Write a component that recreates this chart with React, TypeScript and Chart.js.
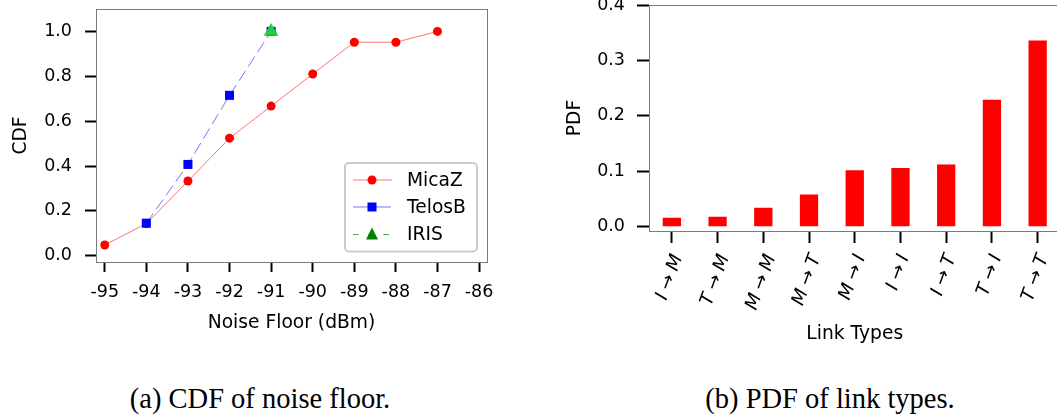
import React, { useEffect, useRef } from 'react';
import { Chart, registerables } from 'chart.js';

Chart.register(...registerables);

// ---------------- data ----------------
const noiseFloorTicks = [-95, -94, -93, -92, -91, -90, -89, -88, -87, -86];
const cdfTicks = [0.0, 0.2, 0.4, 0.6, 0.8, 1.0];
const micaZNoise = [-95, -94, -93, -92, -91, -90, -89, -88, -87];
const micaZCdf = [0.048, 0.143, 0.333, 0.524, 0.667, 0.81, 0.952, 0.952, 1.0];
const telosBNoise = [-94, -93, -92, -91];
const telosBCdf = [0.145, 0.407, 0.715, 1.0];
const irisNoise = [-91];
const irisCdf = [1.0];

const linkTypes = ['I→M', 'T→M', 'M→M', 'M→T', 'M→I', 'I→I', 'I→T', 'T→I', 'T→T'];
const linkPdf = [0.016, 0.018, 0.034, 0.058, 0.102, 0.106, 0.112, 0.229, 0.336];
const pdfTicks = [0.0, 0.1, 0.2, 0.3, 0.4];

const captionA = '(a) CDF of noise floor.';
const captionB = '(b) PDF of link types.';

// ---------------- styles ----------------
const FONT = "'DejaVu Sans', sans-serif";
const SPINE = '#7a7a7a';
const TICK_FONT = { family: FONT, size: 17.5 };
const TITLE_FONT = { family: FONT, size: 18.7 };

const toPts = (xs: number[], ys: number[]) => xs.map((x, i) => ({ x, y: ys[i] }));

function drawMarker(ctx: CanvasRenderingContext2D, kind: string, x: number, y: number, color: string) {
  ctx.save();
  ctx.fillStyle = color;
  ctx.beginPath();
  if (kind === 'circle') {
    ctx.arc(x, y, 4.5, 0, Math.PI * 2);
  } else if (kind === 'rect') {
    ctx.rect(x - 4.5, y - 4.5, 9, 9);
  } else {
    ctx.moveTo(x, y - 7);
    ctx.lineTo(x + 6, y + 5);
    ctx.lineTo(x - 6, y + 5);
    ctx.closePath();
  }
  ctx.fill();
  ctx.restore();
}

const framePlugin = {
  id: 'frame',
  afterDatasetsDraw(chart: any) {
    const { ctx, chartArea: a } = chart;
    ctx.save();
    ctx.strokeStyle = SPINE;
    ctx.lineWidth = 1;
    const l = Math.round(a.left) + 0.5;
    const t = Math.round(a.top) + 0.5;
    const r = Math.round(a.right) + 0.5;
    const b = Math.round(a.bottom) + 0.5;
    ctx.strokeRect(l, t, r - l, b - t);
    ctx.restore();
  },
};

const boxLegendPlugin = {
  id: 'boxLegend',
  afterDraw(chart: any) {
    const { ctx, chartArea: a } = chart;
    const w = 132;
    const h = 88.5;
    const x0 = a.right - 10 - w;
    const y0 = a.bottom - 10.5 - h;
    ctx.save();
    ctx.beginPath();
    ctx.roundRect(x0, y0, w, h, 4);
    ctx.fillStyle = 'rgba(255,255,255,0.85)';
    ctx.fill();
    ctx.strokeStyle = '#cccccc';
    ctx.lineWidth = 2;
    ctx.stroke();
    const rows = [17, 44, 71.5];
    chart.data.datasets.forEach((ds: any, i: number) => {
      const y = y0 + rows[i];
      ctx.save();
      ctx.strokeStyle = ds.legendLine;
      ctx.lineWidth = 1;
      ctx.setLineDash(ds.legendDash);
      ctx.beginPath();
      ctx.moveTo(x0 + 8, y);
      ctx.lineTo(x0 + 47, y);
      ctx.stroke();
      ctx.restore();
      drawMarker(ctx, ds.legendMarker, x0 + 27, y, ds.legendMarkerColor);
      ctx.fillStyle = '#000';
      ctx.font = `18.7px ${FONT}`;
      ctx.textAlign = 'left';
      ctx.textBaseline = 'middle';
      ctx.fillText(ds.label, x0 + 62, y + 1);
    });
    ctx.restore();
  },
};

// Rotated (70°) italic category labels, centred under each tick like matplotlib's rotated ticks.
const rotatedLabelsPlugin = {
  id: 'rotLabels',
  afterDraw(chart: any) {
    const { ctx, chartArea: a, scales } = chart;
    const xs = scales.x;
    const ang = (70 * Math.PI) / 180;
    const spacing = 5;
    const fontSize = 18.5;
    ctx.save();
    ctx.font = `italic ${fontSize}px ${FONT}`;
    const hasLS = 'letterSpacing' in ctx;
    if (hasLS) (ctx as any).letterSpacing = `${spacing}px`;
    ctx.fillStyle = '#000';
    ctx.textBaseline = 'middle';
    const capH = 13.5;
    chart.data.labels.forEach((lab: string, i: number) => {
      const x = xs.getPixelForValue(i) - 2;
      let w: number;
      if (hasLS) {
        w = ctx.measureText(lab).width - spacing;
      } else {
        const parts = Array.from(lab);
        w = parts.reduce((s, p) => s + ctx.measureText(p).width, 0) + spacing * (parts.length - 1);
      }
      const bh = w * Math.sin(ang) + capH * Math.cos(ang);
      const cy = a.bottom + 22 + bh / 2;
      ctx.save();
      ctx.translate(x, cy);
      ctx.rotate(-ang);
      if (hasLS) {
        ctx.textAlign = 'left';
        ctx.fillText(lab, -w / 2, 0);
      } else {
        ctx.textAlign = 'left';
        let px = -w / 2;
        Array.from(lab).forEach((p) => {
          ctx.fillText(p, px, 0);
          px += ctx.measureText(p).width + spacing;
        });
      }
      ctx.restore();
    });
    ctx.restore();
  },
};

export default function App() {
  const leftRef = useRef<HTMLCanvasElement>(null);
  const rightRef = useRef<HTMLCanvasElement>(null);

  useEffect(() => {
    const left = new Chart(leftRef.current as HTMLCanvasElement, {
      type: 'line',
      data: {
        datasets: [
          {
            label: 'MicaZ',
            data: toPts(micaZNoise, micaZCdf),
            borderColor: 'rgba(255,0,0,0.55)',
            borderWidth: 1,
            pointStyle: 'circle',
            pointRadius: 4.5,
            pointBackgroundColor: '#ff0000',
            pointBorderWidth: 0,
            order: 2,
            legendLine: 'rgba(255,0,0,0.55)',
            legendDash: [],
            legendMarker: 'circle',
            legendMarkerColor: '#ff0000',
          } as any,
          {
            label: 'TelosB',
            data: toPts(telosBNoise, telosBCdf),
            borderColor: 'rgba(0,0,255,0.55)',
            borderWidth: 1,
            borderDash: [12, 5],
            pointStyle: 'rect',
            pointRadius: 6.4,
            pointBackgroundColor: '#0000ff',
            pointBorderWidth: 0,
            order: 1,
            legendLine: 'rgba(0,0,255,0.55)',
            legendDash: [16, 6],
            legendMarker: 'rect',
            legendMarkerColor: '#0000ff',
          } as any,
          {
            label: 'IRIS',
            data: toPts(irisNoise, irisCdf),
            borderColor: 'rgba(0,128,0,0.7)',
            borderWidth: 1,
            borderDash: [6, 8],
            pointStyle: 'triangle',
            pointRadius: 8.5,
            pointBackgroundColor: '#1fcc44',
            pointBorderWidth: 0,
            order: 0,
            legendLine: 'rgba(0,128,0,0.7)',
            legendDash: [5.6, 9.6],
            legendMarker: 'triangle',
            legendMarkerColor: '#008000',
          } as any,
        ],
      },
      options: {
        responsive: false,
        animation: false,
        layout: { padding: { left: 0, top: 9, right: 13, bottom: 0 } },
        plugins: { legend: { display: false }, tooltip: { enabled: false } },
        scales: {
          x: {
            type: 'linear',
            min: -95.21,
            max: -85.81,
            afterBuildTicks: (s: any) => {
              s.ticks = noiseFloorTicks.map((v) => ({ value: v }));
            },
            afterFit: (s: any) => {
              s.height = 78;
              s.paddingLeft = 0;
              s.paddingRight = 0;
            },
            grid: { drawOnChartArea: false, drawTicks: true, tickLength: 10, tickWidth: 2, tickColor: '#000' },
            border: { display: false },
            ticks: {
              font: TICK_FONT,
              color: '#000',
              padding: 9.5,
              maxRotation: 0,
              autoSkip: false,
              callback: (v: any) => String(v),
            },
            title: {
              display: true,
              text: 'Noise Floor (dBm)',
              font: TITLE_FONT,
              color: '#000',
              padding: { top: 0, bottom: 5.5 },
            },
          },
          y: {
            type: 'linear',
            min: -0.028,
            max: 1.1,
            afterBuildTicks: (s: any) => {
              s.ticks = cdfTicks.map((v) => ({ value: v }));
            },
            afterFit: (s: any) => {
              s.width = 96;
              s.paddingTop = 0;
              s.paddingBottom = 0;
            },
            grid: { drawOnChartArea: false, drawTicks: true, tickLength: 11, tickWidth: 2, tickColor: '#000' },
            border: { display: false },
            ticks: {
              font: TICK_FONT,
              color: '#000',
              padding: 13,
              autoSkip: false,
              callback: (v: any) => Number(v).toFixed(1),
            },
            title: {
              display: true,
              text: 'CDF',
              font: TITLE_FONT,
              color: '#000',
              padding: { top: 10, bottom: 0 },
            },
          },
        },
      },
      plugins: [framePlugin, boxLegendPlugin],
    } as any);

    const right = new Chart(rightRef.current as HTMLCanvasElement, {
      type: 'bar',
      data: {
        labels: linkTypes,
        datasets: [
          {
            label: 'PDF',
            data: linkPdf,
            backgroundColor: '#ff0000',
            borderWidth: 0,
            barPercentage: 0.4,
            categoryPercentage: 1.0,
          },
        ],
      },
      options: {
        responsive: false,
        animation: false,
        layout: { padding: { left: 0, top: 25, right: 19.5, bottom: 0 } },
        plugins: { legend: { display: false }, tooltip: { enabled: false } },
        scales: {
          x: {
            type: 'category',
            offset: true,
            afterFit: (s: any) => {
              s.height = 129;
              s.paddingLeft = 0;
              s.paddingRight = 0;
            },
            grid: { offset: false, drawOnChartArea: false, drawTicks: true, tickLength: 12, tickWidth: 2, tickColor: '#000' },
            border: { display: false },
            ticks: { display: false },
            title: {
              display: true,
              text: 'Link Types',
              font: TITLE_FONT,
              color: '#000',
              padding: { top: 0, bottom: 14.8 },
            },
          },
          y: {
            type: 'linear',
            min: -0.0078,
            max: 0.4,
            afterBuildTicks: (s: any) => {
              s.ticks = pdfTicks.map((v) => ({ value: v }));
            },
            afterFit: (s: any) => {
              s.width = 109;
              s.paddingTop = 0;
              s.paddingBottom = 0;
            },
            grid: { drawOnChartArea: false, drawTicks: true, tickLength: 12, tickWidth: 2, tickColor: '#000' },
            border: { display: false },
            ticks: {
              font: TICK_FONT,
              color: '#000',
              padding: 12,
              autoSkip: false,
              callback: (v: any) => Number(v).toFixed(1),
            },
            title: {
              display: true,
              text: 'PDF',
              font: TITLE_FONT,
              color: '#000',
              padding: { top: 24, bottom: 0 },
            },
          },
        },
      },
      plugins: [framePlugin, rotatedLabelsPlugin],
    } as any);

    return () => {
      left.destroy();
      right.destroy();
    };
  }, []);

  const captionStyle: React.CSSProperties = {
    position: 'absolute',
    top: 385,
    textAlign: 'center',
    font: "28.5px/28.5px 'Liberation Serif', serif",
    color: '#000',
    whiteSpace: 'nowrap',
  };

  return (
    <div
      style={{
        position: 'fixed',
        left: 0,
        top: 0,
        width: 1057,
        height: 417,
        overflow: 'hidden',
        background: '#fff',
      }}
    >
      <canvas ref={leftRef} width={500} height={340} style={{ position: 'absolute', left: 0, top: 0 }} />
      <canvas ref={rightRef} width={540} height={380} style={{ position: 'absolute', left: 540, top: -20 }} />
      <div style={{ ...captionStyle, left: 0, width: 520 }}>{captionA}</div>
      <div style={{ ...captionStyle, left: 560, width: 540 }}>{captionB}</div>
    </div>
  );
}
